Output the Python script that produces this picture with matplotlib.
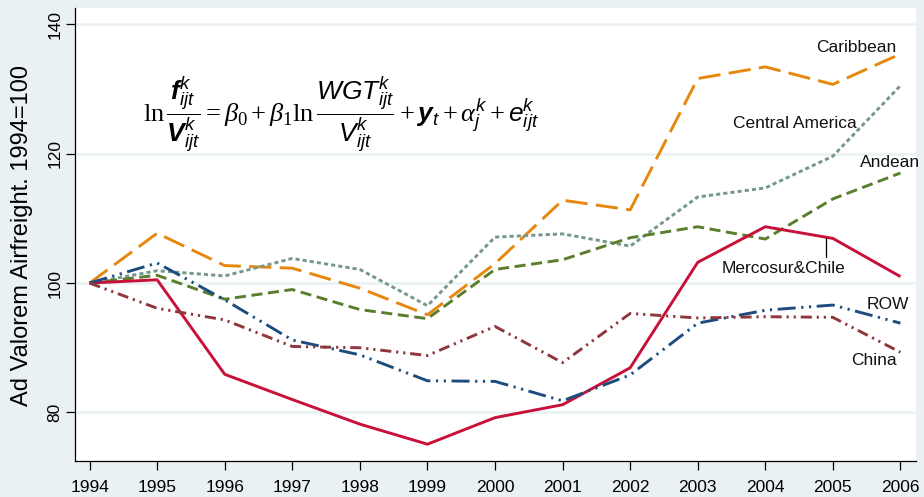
import matplotlib
matplotlib.use("Agg")
import matplotlib.pyplot as plt

# ---- data (index 1994 = 100) ---------------------------------------------
years = list(range(1994, 2007))
caribbean = [100, 107.7, 102.7, 102.3, 99.2, 95.1, 103.0, 112.8, 111.3, 131.6, 133.4, 130.7, 135.4]
central_america = [100, 101.9, 101.1, 103.8, 102.1, 96.5, 107.1, 107.6, 105.7, 113.3, 114.7, 119.6, 130.5]
andean = [100, 101.2, 97.5, 99.0, 95.9, 94.5, 102.1, 103.6, 107.0, 108.7, 106.8, 113.0, 117.0]
mercosur = [100, 100.5, 85.9, 82.0, 78.2, 75.1, 79.2, 81.2, 86.9, 103.2, 108.7, 106.9, 101.0]
row = [100, 103.1, 97.4, 91.2, 88.9, 84.9, 84.8, 81.8, 85.8, 93.8, 95.8, 96.6, 93.8]
china = [100, 96.1, 94.3, 90.2, 90.0, 88.8, 93.3, 87.7, 95.3, 94.6, 94.8, 94.7, 89.3]

yticks = [80, 100, 120, 140]
ylabel = "Ad Valorem Airfreight. 1994=100"

BG = "#eaf1f3"

plt.rcParams["font.family"] = ["Liberation Sans", "DejaVu Sans"]
plt.rcParams["lines.scale_dashes"] = False
plt.rcParams["mathtext.fontset"] = "custom"
plt.rcParams["mathtext.rm"] = "Liberation Serif"
plt.rcParams["mathtext.it"] = "Liberation Serif:italic"
plt.rcParams["mathtext.bf"] = "Liberation Sans:italic:bold"
plt.rcParams["mathtext.sf"] = "Liberation Sans:italic"

fig = plt.figure(figsize=(9.24, 4.97), dpi=100, facecolor=BG)
ax = fig.add_axes([0.0816, 0.0724, 0.9097, 0.9115])
ax.set_facecolor("white")

series = [
    ("Caribbean", caribbean, "#e8870e", (16, 6)),
    ("Central America", central_america, "#76988c", (3, 2.2)),
    ("Andean", andean, "#5a7f2c", (8, 4)),
    ("Mercosur&Chile", mercosur, "#c8103a", None),
    ("ROW", row, "#1c4d7e", (13, 4, 1.6, 4, 1.6, 4)),
    ("China", china, "#8e373c", (8, 3.5, 1.6, 3.5, 1.6, 3.5)),
]
for name, vals, color, dash in series:
    ln, = ax.plot(years, vals, color=color, lw=2.1, solid_capstyle="butt",
                  dash_capstyle="butt", zorder=3)
    if dash is not None:
        ln.set_dashes(dash)

# line labels, placed like Stata's marker labels
lab = dict(fontsize=12.5, color="#111111", zorder=4, clip_on=False)
ax.text(2005.94, 136.4, "Caribbean", ha="right", va="center", **lab)
ax.text(2005.36, 124.7, "Central America", ha="right", va="center", **lab)
ax.text(2006.29, 118.7, "Andean", ha="right", va="center", **lab)
ax.text(2004.27, 102.3, "Mercosur&Chile", ha="center", va="center", **lab)
ax.text(2006.13, 96.7, "ROW", ha="right", va="center", **lab)
ax.text(2005.94, 88.0, "China", ha="right", va="center", **lab)
ax.plot([2004.9, 2004.9], [106.9, 104.0], color="black", lw=0.9, zorder=4)

eq = (r"$\ln\dfrac{\mathbf{f}^{\mathsf{k}}_{\mathsf{ijt}}}{\mathbf{V}^{\mathsf{k}}_{\mathsf{ijt}}}"
      r"=\beta_0+\beta_1\ln\dfrac{\mathsf{WGT}^{\mathsf{k}}_{\mathsf{ijt}}}{\mathsf{V}^{\mathsf{k}}_{\mathsf{ijt}}}"
      r"+\mathbf{y}_{\mathsf{t}}+\alpha^{\mathsf{k}}_{\mathsf{j}}+\mathsf{e}^{\mathsf{k}}_{\mathsf{ijt}}$")
fig.text(143 / 924, 1 - 115 / 497, eq, fontsize=19, ha="left", va="center")

ax.set_xlim(1993.79, 2006.23)
ax.set_ylim(72.5, 142.5)
ax.set_xticks(years)
ax.set_yticks(yticks)
ax.tick_params(axis="both", direction="out", length=6.5, width=0.9, labelsize=12.5, colors="black")
ax.tick_params(axis="x", pad=7)
ax.tick_params(axis="y", pad=3)
for t in ax.get_yticklabels():
    t.set_rotation(90)
    t.set_va("center")

ax.grid(axis="y", color=BG, lw=1.8, zorder=1)
ax.grid(axis="x", visible=False)
for s in ["top", "right"]:
    ax.spines[s].set_visible(False)
for s in ["left", "bottom"]:
    ax.spines[s].set_linewidth(0.9)
    ax.spines[s].set_color("black")

fig.text(22 / 924, 1 - 236 / 497, ylabel, rotation=90, fontsize=17, ha="center", va="center")

fig.savefig("out.png", dpi=100, facecolor=BG)
